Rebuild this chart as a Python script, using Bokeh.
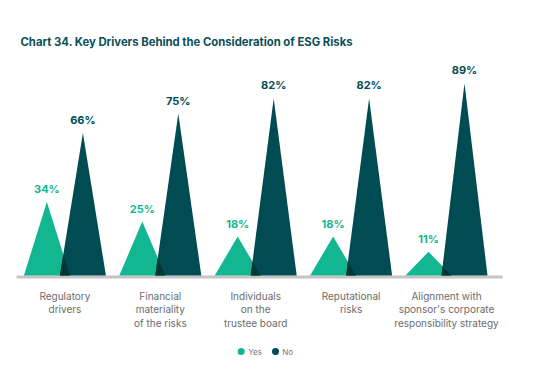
from bokeh.plotting import figure
from bokeh.models import Range1d
from bokeh.core.properties import value
from bokeh.embed import file_html
from bokeh.resources import INLINE

# ---- data ----
categories = [
    "Regulatory\ndrivers",
    "Financial\nmateriality\nof the risks",
    "Individuals\non the\ntrustee board",
    "Reputational\nrisks",
    "Alignment with\nsponsor's corporate\nresponsibility strategy",
]
yes_values = [34, 25, 18, 18, 11]
no_values = [66, 75, 82, 82, 89]
series_names = ["Yes", "No"]
title_text = "Chart 34. Key Drivers Behind the Consideration of ESG Risks"

# ---- styles ----
YES_C = "#12b690"
NO_C = "#004c52"
OVER_C = "#003634"
FONT = "Inter"

W, H = 547, 363
PX_PER_CAT = 95.4
X0_PX = 64.4           # pixel x of first category centre
BASE_PX = 275          # pixel y of the zero line
PX_PER_PCT = 2.16

x_start = -X0_PX / PX_PER_CAT
x_end = x_start + W / PX_PER_CAT
y_end = BASE_PX / PX_PER_PCT
y_start = -(H - BASE_PX) / PX_PER_PCT

def dx(px):
    return x_start + px / PX_PER_CAT

def dy(py):
    return (BASE_PX - py) / PX_PER_PCT

OFF = 18 / PX_PER_CAT    # offset of each apex from category centre
HW = 23 / PX_PER_CAT     # half width of triangle base

p = figure(width=W, height=H, output_backend="svg", toolbar_location=None,
           x_range=Range1d(x_start, x_end), y_range=Range1d(y_start, y_end),
           min_border=0, outline_line_color=None)
p.axis.visible = False
p.grid.visible = False
p.background_fill_color = "white"
p.border_fill_color = "white"

# baseline
p.line([dx(16), dx(502)], [dy(276.5), dy(276.5)], line_color="#c4c4c4", line_width=3)

idx = list(range(len(categories)))
yes_x = [i - OFF for i in idx]
no_x = [i + OFF for i in idx]

yes_xs = [[c - HW, c, c + HW] for c in yes_x]
yes_ys = [[0, v, 0] for v in yes_values]
no_xs = [[c - HW, c, c + HW] for c in no_x]
no_ys = [[0, v, 0] for v in no_values]

p.patches(yes_xs, yes_ys, fill_color=YES_C, line_color=None)
p.patches(no_xs, no_ys, fill_color=NO_C, line_color=None)

# overlap of the two triangles (yes right edge x no left edge)
ov_xs, ov_ys = [], []
for ay, an, vy, vn in zip(yes_x, no_x, yes_values, no_values):
    d = an - ay
    ys = (2 * HW - d) / (HW * (1 / vy + 1 / vn))
    xs = ay + HW * (1 - ys / vy)
    ov_xs.append([an - HW, xs, ay + HW])
    ov_ys.append([0, ys, 0])
p.patches(ov_xs, ov_ys, fill_color=OVER_C, line_color=None)

# value labels
p.text(x=yes_x, y=yes_values, text=[f"{v}%" for v in yes_values],
       text_font=value(FONT), text_font_style="bold", text_font_size="11px",
       text_color=YES_C, text_align="center", text_baseline="middle", y_offset=-13)
p.text(x=no_x, y=no_values, text=[f"{v}%" for v in no_values],
       text_font=value(FONT), text_font_style="bold", text_font_size="11px",
       text_color=NO_C, text_align="center", text_baseline="middle", y_offset=-13)

# category labels
p.text(x=idx, y=[0] * len(idx), text=categories,
       text_font=value(FONT), text_font_size="10px", text_color="#6b6b6b",
       text_align="center", text_baseline="top", y_offset=14, text_line_height=1.15)

# title
p.text(x=[dx(20)], y=[dy(41)], text=[title_text], text_font=value(FONT),
       text_font_style="bold", text_font_size="11.3px", text_color="#0b4f56",
       text_align="left", text_baseline="alphabetic")

# legend
p.scatter(x=[dx(240.7), dx(275)], y=[dy(351), dy(351)], size=7,
          fill_color=[YES_C, NO_C], line_color=None)
p.text(x=[dx(247.7), dx(281.7)], y=[dy(351), dy(351)], text=series_names,
       text_font=value(FONT), text_font_size="8px", text_color="#777777",
       text_align="left", text_baseline="middle")

open("out.html", "w").write(file_html(p, INLINE))
